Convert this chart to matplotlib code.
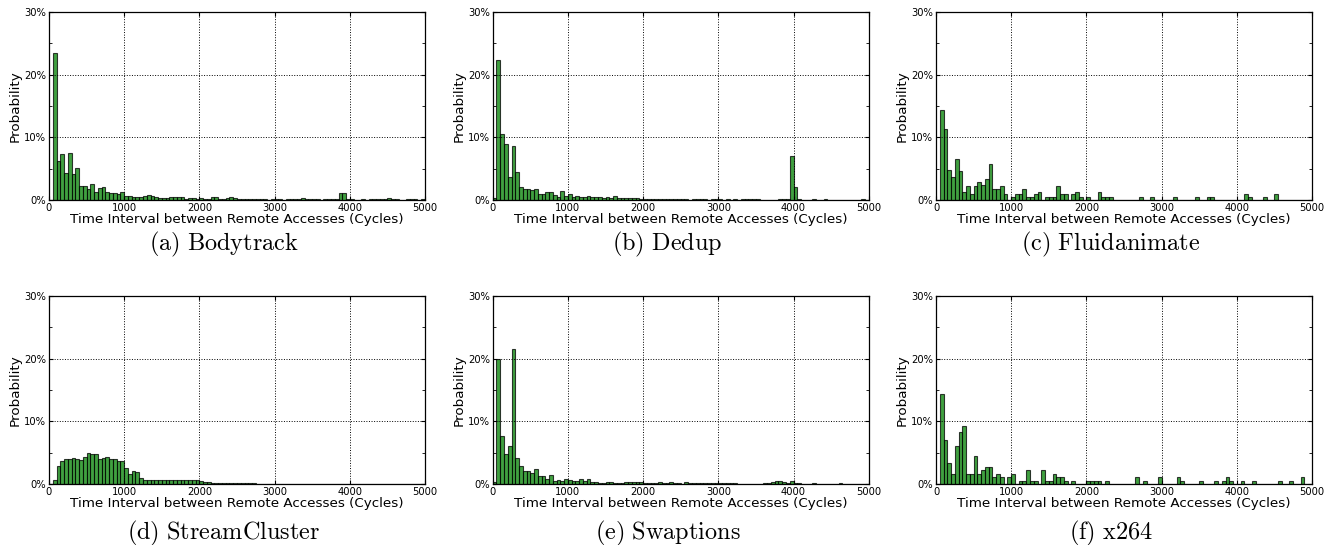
import numpy as np
import matplotlib
matplotlib.use('Agg')
import matplotlib.pyplot as plt
from matplotlib.ticker import FuncFormatter, MultipleLocator

plt.rcParams['mathtext.fontset'] = 'cm'

# 100 bins of 50 cycles each, 0..5000, values in percent
bin_width = 50
bin_left = np.arange(100) * bin_width

bodytrack = [
    0, 23.5, 6.3, 7.4, 4.3, 7.5, 4.1, 5.1, 2.25, 2.2, 1.8, 2.6, 1.3, 1.9, 2.1, 1.2, 1.1, 1.1, 1.0, 1.2,
    0.6, 0.7, 0.45, 0.45, 0.45, 0.6, 0.75, 0.65, 0.5, 0.25, 0.3, 0.35, 0.55, 0.4, 0.4, 0.4, 0.2, 0.3, 0.35, 0.2,
    0.3, 0.2, 0.2, 0.4, 0.4, 0.2, 0.2, 0.25, 0.5, 0.35, 0.15, 0.15, 0.2, 0.2, 0.15, 0.1, 0.1, 0.1, 0.05, 0.1,
    0.1, 0.1, 0.05, 0.1, 0.15, 0.1, 0.1, 0.3, 0.15, 0.15, 0.1, 0.1, 0.05, 0.1, 0.1, 0.1, 0.1, 1.1, 1.15, 0.1,
    0.1, 0.05, 0.05, 0.1, 0.05, 0.15, 0.1, 0.15, 0.15, 0.1, 0.3, 0.1, 0.1, 0.05, 0.05, 0.1, 0.15, 0.1, 0.05, 0.1]

dedup = [
    0.3, 22.4, 10.5, 8.9, 3.7, 8.6, 4.4, 2.0, 1.75, 1.75, 1.65, 1.75, 0.9, 1.0, 1.3, 1.3, 0.85, 0.5, 1.4, 0.6,
    0.9, 0.5, 0.6, 0.55, 0.5, 0.6, 0.4, 0.45, 0.55, 0.3, 0.45, 0.3, 0.65, 0.25, 0.3, 0.3, 0.35, 0.3, 0.25, 0.2,
    0.15, 0.15, 0.15, 0.1, 0.15, 0.1, 0.1, 0.1, 0.1, 0.1, 0.15, 0.1, 0.05, 0.1, 0.1, 0.1, 0.1, 0.05, 0.1, 0.1,
    0.1, 0.05, 0.1, 0.05, 0.1, 0.05, 0.1, 0.1, 0.1, 0.15, 0.1, 0.05, 0.05, 0.05, 0.05, 0.05, 0.1, 0.1, 0.1, 7.0,
    2.1, 0.1, 0.05, 0.05, 0.05, 0.1, 0.05, 0.05, 0.1, 0.05, 0.05, 0.05, 0.05, 0.05, 0.05, 0.05, 0.05, 0.05, 0.1, 0.05]

fluidanimate = [
    0, 14.3, 11.4, 4.8, 3.7, 6.6, 4.7, 1.3, 2.3, 0.9, 2.3, 2.8, 2.35, 3.3, 5.7, 1.8, 1.8, 2.3, 0.9, 0,
    0.45, 0.9, 0.9, 1.8, 0.45, 0.45, 0.9, 1.35, 0, 0.45, 0.45, 0.45, 2.3, 0.9, 0.9, 0, 0.9, 1.35, 0.45, 0,
    0.45, 0, 0, 1.35, 0.45, 0.45, 0.45, 0, 0, 0, 0, 0, 0, 0, 0.45, 0, 0, 0.45, 0, 0,
    0, 0, 0, 0.45, 0, 0, 0, 0, 0, 0.45, 0, 0, 0.45, 0.45, 0, 0, 0, 0, 0, 0,
    0, 0, 0.9, 0.45, 0, 0, 0, 0.45, 0, 0, 0.9, 0, 0, 0, 0, 0, 0, 0, 0, 0]

streamcluster = [
    0, 0.6, 2.9, 3.6, 4.0, 4.05, 4.1, 4.0, 3.8, 4.25, 4.9, 4.85, 4.85, 3.95, 4.2, 4.35, 4.0, 4.05, 3.6, 3.6,
    2.6, 1.6, 2.0, 1.85, 0.9, 0.65, 0.65, 0.65, 0.65, 0.65, 0.6, 0.7, 0.7, 0.65, 0.65, 0.6, 0.6, 0.6, 0.6, 0.6,
    0.55, 0.3, 0.3, 0.2, 0.15, 0.15, 0.15, 0.1, 0.1, 0.1, 0.1, 0.1, 0.1, 0.1, 0.1, 0.05, 0.05, 0.05, 0.05, 0.05,
    0.03, 0.03, 0.03, 0.03, 0.03, 0.03, 0.03, 0.03, 0.03, 0.03, 0.03, 0.03, 0.03, 0.03, 0.03, 0.03, 0.03, 0.03, 0.03, 0.03,
    0.02, 0.02, 0.02, 0.02, 0.02, 0.02, 0.02, 0.02, 0.02, 0.02, 0.02, 0.02, 0.02, 0.02, 0.02, 0.02, 0.02, 0.02, 0.02, 0.02]

swaptions = [
    0.3, 20.0, 7.65, 4.8, 6.0, 21.6, 4.2, 2.9, 2.05, 2.05, 1.8, 2.35, 1.35, 1.25, 0.85, 1.4, 0.5, 0.7, 0.5, 0.85,
    0.6, 0.55, 0.4, 0.8, 0.45, 0.75, 0.35, 0.35, 0.2, 0.2, 0.25, 0.3, 0.2, 0.2, 0.2, 0.25, 0.25, 0.3, 0.3, 0.3,
    0.1, 0.1, 0.1, 0.1, 0.25, 0.1, 0.1, 0.25, 0.1, 0.1, 0.05, 0.3, 0.2, 0.15, 0.1, 0.1, 0.1, 0.15, 0.1, 0.1,
    0.1, 0.1, 0.1, 0.2, 0.1, 0.05, 0.05, 0.05, 0.05, 0.05, 0.05, 0.05, 0.1, 0.1, 0.25, 0.5, 0.4, 0.3, 0.1, 0.45,
    0.1, 0.1, 0.05, 0.05, 0.05, 0.1, 0.05, 0.05, 0.05, 0.05, 0.05, 0.05, 0.1, 0.05, 0.05, 0.05, 0.05, 0.05, 0.05, 0.05]

x264 = [
    0, 14.3, 7.1, 3.3, 1.6, 6.0, 8.25, 9.3, 1.6, 1.6, 4.4, 1.6, 2.2, 2.7, 2.7, 1.1, 1.6, 1.1, 0, 1.1,
    1.6, 0, 0.55, 0.55, 2.2, 0.55, 0.55, 0, 2.2, 0.55, 0.55, 1.6, 1.1, 1.1, 0.55, 0, 0.55, 0, 0, 0,
    0.55, 0.55, 0.55, 0.55, 0, 0.55, 0, 0, 0, 0, 0, 0, 0, 1.1, 0, 0.55, 0, 0, 0, 1.1,
    0, 0, 0, 0, 1.1, 0.55, 0, 0, 0, 0, 0.55, 0, 0, 0, 0.55, 0, 0.55, 1.1, 0.55, 0,
    0, 0.55, 0, 0, 0.55, 0, 0, 0, 0, 0, 0, 0.55, 0, 0, 0.55, 0, 0, 1.1, 0, 0]

captions = ['(a)\\ Bodytrack', '(b)\\ Dedup', '(c)\\ Fluidanimate',
            '(d)\\ StreamCluster', '(e)\\ Swaptions', '(f)\\ x264']
series = [bodytrack, dedup, fluidanimate, streamcluster, swaptions, x264]

W, H = 1333, 545
fig = plt.figure(figsize=(W / 100, H / 100), dpi=100)

lefts = [49, 492.7, 936]
bottoms = [200, 484]   # pixel y of the x axis (from top)
cap_y = [244, 533]
ax_w, ax_h = 376, 188

for i, (vals, cap) in enumerate(zip(series, captions)):
    row, col = divmod(i, 3)
    l, b = lefts[col], bottoms[row]
    ax = fig.add_axes([l / W, 1 - b / H, ax_w / W, ax_h / H])
    ax.bar(bin_left, vals, width=bin_width, align='edge',
           color='green', edgecolor='black', alpha=0.75, linewidth=0.8)
    ax.set_xlim(0, 5000)
    ax.set_ylim(0, 30)
    ax.set_xticks([0, 1000, 2000, 3000, 4000, 5000])
    ax.set_yticks([0, 10, 20, 30])
    ax.yaxis.set_minor_locator(MultipleLocator(5))
    ax.yaxis.set_major_formatter(FuncFormatter(lambda v, p: '%d%%' % v))
    ax.tick_params(which='both', direction='in', top=True, right=True,
                   labelsize=7.2, pad=2)
    ax.tick_params(which='major', length=3)
    ax.tick_params(which='minor', length=2)
    ax.grid(True, which='major', color='black', linestyle=':', linewidth=0.7)
    for s in ax.spines.values():
        s.set_linewidth(0.9)
    ax.set_xlabel('Time Interval between Remote Accesses (Cycles)', fontsize=9.7, labelpad=0)
    ax.set_ylabel('Probability', fontsize=9.7, labelpad=2)
    cx = l + ax_w / 2 - 13
    fig.text(cx / W, 1 - cap_y[row] / H, r'$\mathrm{%s}$' % cap, fontsize=17.5,
             ha='center', va='center')

fig.savefig('out.png', dpi=100)
